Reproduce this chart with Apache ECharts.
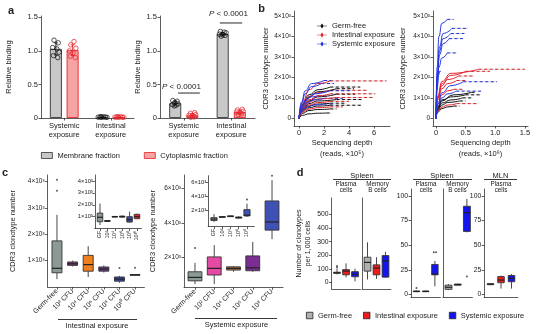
<!DOCTYPE html>
<html><head><meta charset="utf-8">
<script src="https://cdn.jsdelivr.net/npm/echarts@6/dist/echarts.min.js"></script>
<style>html,body{margin:0;padding:0;background:#fff}#c{width:537px;height:334px}</style>
</head><body><div id="c"></div>
<script>
// ---------------- DATA ----------------
// Panel a
const aCats = ['Systemic\nexposure', 'Intestinal\nexposure'];
const aLeftMem = [1.03, 0.012];
const aLeftMemSd = [0.09, 0.005];
const aLeftCyt = [1.01, 0.012];
const aLeftCytSd = [0.08, 0.005];
const aRightMem = [0.22, 1.25];
const aRightMemSd = [0.03, 0.025];
const aRightCyt = [0.04, 0.09];
const aRightCytSd = [0.025, 0.03];
const aLeftMemPts = [
  [[-0.04,1.16],[0.05,1.12],[-0.07,1.05],[0.02,1.03],[0.07,0.98],[-0.05,0.93],[0.04,0.9]],
  [[-0.09,0.012],[-0.05,0.015],[-0.01,0.01],[0.03,0.018],[0.07,0.012],[0.1,0.01],[-0.03,0.02]]
];
const aLeftCytPts = [
  [[0.03,1.14],[-0.04,1.09],[0.07,1.04],[-0.07,1.0],[0.01,0.97],[-0.05,0.92],[0.06,0.9]],
  [[-0.09,0.012],[-0.05,0.015],[-0.01,0.01],[0.03,0.018],[0.07,0.012],[0.1,0.01],[-0.03,0.02]]
];
const aRightMemPts = [
  [[-0.05,0.26],[0.04,0.25],[-0.01,0.23],[0.06,0.21],[-0.06,0.2],[0.02,0.19],[-0.02,0.18]],
  [[-0.05,1.29],[0.03,1.28],[0.07,1.27],[-0.07,1.25],[0.0,1.24],[0.05,1.23],[-0.03,1.22]]
];
const aRightCytPts = [
  [[0.05,0.08],[-0.04,0.07],[0.07,0.05],[-0.07,0.04],[0.0,0.03],[0.04,0.015],[-0.03,0.01]],
  [[0.05,0.13],[-0.05,0.12],[0.07,0.1],[-0.07,0.09],[0.0,0.08],[0.03,0.06],[-0.03,0.05]]
];
const aSigLow = [[0.38,0.372],[0.84,0.372]];
const aSigHigh = [[1.26,1.416],[1.73,1.416]];

// Panel b (x: reads, y: clonotypes); k = germ-free, r = intestinal, b = systemic
const bLeftColors = ['k','k','k','k','k','k','k','k','r','r','r','r','r','r','b','b','b','b','b','b'];
const bLeftPts = [
  [[0,0],[0.3,700],[0.8,1150],[1.5,1400],[2.5,1530]],
  [[0,0],[0.3,650],[0.8,1050],[1.5,1300],[3.0,1450]],
  [[0,0],[0.3,500],[0.8,850],[1.5,1050],[3.0,1180]],
  [[0,0],[0.3,450],[0.8,720],[1.5,850],[3.0,920]],
  [[0,0],[0.3,400],[0.8,600],[1.5,700],[2.5,740]],
  [[0,0],[0.3,350],[0.8,520],[1.5,600],[2.5,640]],
  [[0,0],[0.3,250],[0.8,380],[1.5,430],[2.5,460]],
  [[0,0],[0.3,150],[0.8,220],[1.5,250],[2.2,260]],
  [[0,0],[0.3,800],[0.8,1400],[1.5,1700],[2.5,1830]],
  [[0,0],[0.3,650],[0.8,1050],[1.5,1250],[2.5,1370]],
  [[0,0],[0.3,550],[0.8,900],[1.5,1100],[2.5,1200]],
  [[0,0],[0.3,500],[0.8,800],[1.5,950],[3.0,1020]],
  [[0,0],[0.3,400],[0.8,650],[1.5,770],[2.5,830]],
  [[0,0],[0.3,300],[0.8,450],[1.5,520],[2.5,560]],
  [[0,0],[0.2,800],[0.5,1350],[1.0,1700],[2.0,1850]],
  [[0,0],[0.2,700],[0.5,1200],[1.0,1550],[1.8,1700]],
  [[0,0],[0.2,550],[0.6,950],[1.2,1200],[2.5,1350]],
  [[0,0],[0.2,500],[0.5,850],[1.0,1050],[1.5,1100]],
  [[0,0],[0.2,450],[0.6,750],[1.2,900],[2.0,980]],
  [[0,0],[0.2,350],[0.6,550],[1.2,650],[2.0,700]]
];
const bLeftExt = [4.9,4.4,4.5,5.0,3.8,5.0,3.0,2.6,7.0,5.5,6.1,5.9,4.0,3.5,2.6,2.8,4.2,2.2,3.5,2.8];

const bRightColors = ['k','k','k','k','k','r','r','r','r','r','r','b','b','b','b','b','b','b','b'];
const bRightPts = [
  [[0,0],[0.03,550],[0.1,900],[0.3,1150],[0.6,1270]],
  [[0,0],[0.03,500],[0.1,850],[0.25,1050],[0.5,1150]],
  [[0,0],[0.03,450],[0.1,750],[0.25,900],[0.45,1000]],
  [[0,0],[0.03,400],[0.1,650],[0.2,780],[0.4,850]],
  [[0,0],[0.03,300],[0.1,480],[0.2,560],[0.3,600]],
  [[0,0],[0.03,1100],[0.1,1800],[0.25,2200],[0.72,2400]],
  [[0,0],[0.03,1000],[0.1,1700],[0.25,2100],[0.5,2300]],
  [[0,0],[0.03,1000],[0.1,1600],[0.2,1900],[0.38,2070]],
  [[0,0],[0.03,900],[0.1,1450],[0.2,1700],[0.35,1850]],
  [[0,0],[0.03,700],[0.1,1150],[0.2,1350],[0.3,1420]],
  [[0,0],[0.03,350],[0.1,550],[0.2,650],[0.35,720]],
  [[0,0],[0.02,2500],[0.05,4000],[0.1,4650],[0.19,4840]],
  [[0,0],[0.02,2000],[0.06,3500],[0.12,4150],[0.27,4400]],
  [[0,0],[0.02,1900],[0.06,3300],[0.12,3900],[0.25,4150]],
  [[0,0],[0.02,1800],[0.06,3100],[0.12,3650],[0.22,3900]],
  [[0,0],[0.02,1500],[0.05,2500],[0.1,2950],[0.19,3200]],
  [[0,0],[0.02,1400],[0.04,2100],[0.06,2300]],
  [[0,0],[0.03,700],[0.1,1250],[0.25,1600],[0.46,1790]],
  [[0,0],[0.03,600],[0.1,1000],[0.2,1200],[0.34,1330]]
];
const bRightExt = [0.66,0.75,0.6,0.5,0.4,1.5,0.91,0.63,0.5,0.45,0.71,0.3,0.54,0.48,0.46,0.35,0.08,1.03,0.76];

// Panel c
const cLeftCats = ['Germ-free','10² CFU','10⁴ CFU','10⁶ CFU','10⁸ CFU','10¹⁰ CFU'];
const cLeftBoxes = [[300,540,710,1750,2740],[780,820,880,950,1000],[380,600,850,1200,1550],[550,600,680,760,820],[160,220,300,380,420],[440,450,460,470,480]];
const cLeftOut = [[1,3650],[1,4070],[5,720],[6,730]];
const cLeftColors = ['#8c9a95','#83407f','#f07f1e','#6b3c8c','#3b48a3','#444444'];
const cLeftInsetCats = ['GF','10²','10⁴','10⁶','10⁸','10¹⁰'];
const cLeftInsetBoxes = [[300,580,950,1300,2100],[550,600,640,680,720],[950,980,1000,1020,1050],[930,970,1000,1050,1100],[500,550,750,1000,1420],[800,830,1000,1200,1250]];
const cLeftInsetColors = ['#8c9a95','#83407f','#f07f1e','#6b3c8c','#3b48a3','#e3262b'];
const cRightCats = ['Germ-free','10² CFU','10⁴ CFU','10⁶ CFU','10⁸ CFU'];
const cRightBoxes = [[410,600,800,1130,1650],[410,940,1330,2000,2690],[1130,1230,1330,1420,1450],[1130,1190,1360,2060,2880],[3040,3570,4050,5280,6500]];
const cRightOut = [[1,2530],[5,6750]];
const cRightColors = ['#8c9a95','#e54aa3','#b8733d','#7a2e91','#3f51b5'];
const cRightInsetCats = ['GF','10²','10⁴','10⁶','10⁸'];
const cRightInsetBoxes = [[400,600,800,1000,1500],[1000,1050,1100,1150,1200],[1100,1150,1200,1250,1300],[900,950,1000,1100,1200],[1100,1250,1350,2150,3000]];
const cRightInsetOut = [[5,3600]];

// Panel d (per facet: germ-free, intestinal, systemic) [min,q1,median,q3,max]
const dSpleenPlasmaA = [[60,68,72,76,100],[39,57,84,95,141],[9,43,61,80,102]];
const dSpleenPlasmaAOut = [[1,110],[1,122]];
const dSpleenMemoryA = [[23,84,148,186,295],[27,57,107,130,186],[35,40,159,198,225]];
const dSpleenPlasmaB = [[2.5,3,3.2,3.5,4],[2.5,3,3.2,3.5,4],[8.4,20,20.7,30.5,34]];
const dSpleenPlasmaBOut = [[1,6.7],[2.88,42.8],[3.12,42.8]];
const dSpleenMemoryB = [[4.5,5.3,7.4,9.5,10.5],[9,9.5,10.2,10.5,11],[63,64,83,89.5,97]];
const dSpleenMemoryBOut = [[3,18.2]];
const dMlnPlasma = [[9.5,10,10.5,11,11.5],[6,12,14.7,18.2,19.3],[6,13,16.5,19.3,20.7]];
const dColors = ['#b0b0b0','#ee1c1c','#1414ee'];

// ---------------- STYLE / BUILD ----------------
const F = '"Liberation Sans", Arial, Helvetica, sans-serif';
const INK = '#222';
const AX = '#333';
const aPos = [0.5, 1.5];
const bCol = {k:'#111111', r:'#e3202a', b:'#2233dd'};
const bName = {k:'Germ-free', r:'Intestinal exposure', b:'Systemic exposure'};
const sup3 = v => v === 0 ? '0' : (v/1000) + '×10³';

function ax(grid, min, max) {
  return {type:'value', gridIndex:grid, min, max, splitLine:{show:false},
    axisLine:{show:true, onZero:false, lineStyle:{color:AX, width:0.8}},
    axisTick:{show:false}, axisLabel:{show:false}};
}
function ticks(a, values, formatter, fs, extra) {
  a.axisTick = {show:true, length:2.5, lineStyle:{color:AX, width:0.8}, customValues:values};
  a.axisLabel = Object.assign({show:true, customValues:values, formatter, fontSize:fs, color:INK, fontFamily:F, margin:3}, extra || {});
  return a;
}
function named(a, name, gap, fs, lh) {
  a.name = name; a.nameLocation = 'middle'; a.nameGap = gap;
  a.nameTextStyle = {fontSize:fs, color:INK, fontFamily:F, lineHeight: lh || Math.round(fs*1.2)};
  return a;
}

const grids = [
  {left:41, top:16, width:93, height:102},
  {left:160, top:16, width:95, height:102},
  {left:294, top:11, width:96, height:115},
  {left:433, top:11, width:95, height:115},
  {left:47.6, top:175, width:96.8, height:112},
  {left:94.8, top:175, width:46.6, height:53.6},
  {left:184, top:175, width:99, height:112.3},
  {left:208.2, top:175.7, width:46.2, height:51},
  {left:331.6, top:198, width:28.8, height:91},
  {left:362.1, top:198, width:28.8, height:91},
  {left:411, top:189, width:29.4, height:108.5},
  {left:443, top:189, width:29.4, height:108.5},
  {left:484.2, top:189, width:33.6, height:108.5}
].map(g => Object.assign({outerBoundsMode:'none', containLabel:false}, g));

const catFmt = cats => v => cats[Math.round(v) - 1];
const aFmt = v => aCats[Math.floor(v)];

const xAxes = [
  ticks(ax(0,0,2), aPos, aFmt, 7.5, {lineHeight:9}),
  ticks(ax(1,0,2), aPos, aFmt, 7.5, {lineHeight:9}),
  named(ticks(ax(2,-0.4,7.28), [0,2,4,6], v => String(v), 7.5), 'Sequencing depth\n(reads, ×10⁵)', 10, 7.5, 10.5),
  named(ticks(ax(3,-0.05,1.552), [0,0.5,1,1.5], v => v === 0 ? '0' : v.toFixed(1), 7.5), 'Sequencing depth\n(reads, ×10⁶)', 10, 7.5, 10.5),
  ticks(ax(4,0.4,6.6), [1,2,3,4,5,6], catFmt(cLeftCats), 7, {rotate:45, margin:3}),
  ticks(ax(5,0.3,6.6), [1,2,3,4,5,6], catFmt(cLeftInsetCats), 5.5, {rotate:90, margin:2}),
  ticks(ax(6,0.43,5.57), [1,2,3,4,5], catFmt(cRightCats), 7, {rotate:45, margin:3}),
  ticks(ax(7,0.3,5.9), [1,2,3,4,5], catFmt(cRightInsetCats), 5.5, {rotate:90, margin:2}),
  ax(8,0.4,3.6), ax(9,0.4,3.6), ax(10,0.4,3.6), ax(11,0.4,3.6), ax(12,0.4,3.6)
];
const aYFmt = v => v === 0 ? '0' : v.toFixed(1);
const yAxes = [
  named(ticks(ax(0,0,1.52), [0,0.5,1,1.5], aYFmt, 7.5), 'Relative binding', 27.5, 7.5),
  named(ticks(ax(1,0,1.52), [0,0.5,1,1.5], aYFmt, 7.5), 'Relative binding', 17.5, 7.5),
  named(ticks(ax(2,-375,5250), [0,1000,2000,3000,4000,5000], sup3, 6.5), 'CDR3 clonotype number', 22.5, 7.5),
  named(ticks(ax(3,-375,5250), [0,1000,2000,3000,4000,5000], sup3, 6.5), 'CDR3 clonotype number', 25.5, 7.5),
  named(ticks(ax(4,0,4250), [1000,2000,3000,4000], sup3, 6.5), 'CDR3 clonotype number', 30, 7.5),
  ticks(ax(5,0,4500), [1000,2000,3000,4000], sup3, 5.8, {margin:2}),
  named(ticks(ax(6,220,6800), [2000,4000,6000], sup3, 6.5), 'CDR3 clonotype number', 26.5, 7.5),
  ticks(ax(7,-290,7000), [2000,4000,6000], sup3, 5.8, {margin:2}),
  named(ticks(ax(8,-47,620), [0,100,200,300,400,500], v => String(v), 6.8), 'Number of clonotypes\nper 1,000 cells', 19.6, 7, 8.5),
  ax(9,-47,620),
  ticks(ax(10,-3,107), [0,25,50,75,100], v => String(v), 6.8),
  ax(11,-3,107),
  ticks(ax(12,-3,107), [0,25,50,75,100], v => String(v), 6.8)
];

const series = [];
// ---- panel a
function barS(grid, name, vals, off, fill, stroke) {
  return {type:'bar', name, xAxisIndex:grid, yAxisIndex:grid, barWidth:12, barGap:'-100%',
    data: vals.map((v,i) => [aPos[i] + off, v]),
    itemStyle:{color:fill, borderColor:stroke, borderWidth:0.9}, silent:true, z:2};
}
function errS(grid, means, sds, off, color) {
  return {type:'custom', xAxisIndex:grid, yAxisIndex:grid, silent:true, z:3,
    data: means.map((m,i) => [aPos[i] + off, m - sds[i], m + sds[i]]),
    renderItem: (p, api) => {
      const lo = api.coord([api.value(0), api.value(1)]);
      const hi = api.coord([api.value(0), api.value(2)]);
      const st = {stroke:color, lineWidth:0.9};
      return {type:'group', children:[
        {type:'line', shape:{x1:lo[0], y1:lo[1], x2:hi[0], y2:hi[1]}, style:st},
        {type:'line', shape:{x1:lo[0]-2, y1:lo[1], x2:lo[0]+2, y2:lo[1]}, style:st},
        {type:'line', shape:{x1:hi[0]-2, y1:hi[1], x2:hi[0]+2, y2:hi[1]}, style:st}
      ]};
    }};
}
function ptsS(grid, pts, off, color) {
  const data = [];
  pts.forEach((arr, i) => arr.forEach(([dx, v]) => data.push([aPos[i] + off + dx, v])));
  return {type:'scatter', xAxisIndex:grid, yAxisIndex:grid, data, symbol:'circle', symbolSize:4.5,
    itemStyle:{color:'rgba(255,255,255,0)', borderColor:color, borderWidth:0.9}, silent:true, z:4};
}
const MEM_F = '#c8c8c8', MEM_S = '#333333', CYT_F = '#f6a3a3', CYT_S = '#e3242b';
[[0, aLeftMem, aLeftMemSd, aLeftMemPts, aLeftCyt, aLeftCytSd, aLeftCytPts],
 [1, aRightMem, aRightMemSd, aRightMemPts, aRightCyt, aRightCytSd, aRightCytPts]].forEach(([g, m, ms, mp, c, cs, cp]) => {
  series.push(barS(g, 'Membrane fraction', m, -0.18, MEM_F, MEM_S));
  series.push(barS(g, 'Cytoplasmic fraction', c, 0.18, CYT_F, CYT_S));
  series.push(errS(g, m, ms, -0.18, '#111'));
  series.push(errS(g, c, cs, 0.18, CYT_S));
  series.push(ptsS(g, mp, -0.18, '#111'));
  series.push(ptsS(g, cp, 0.18, CYT_S));
});
[aSigLow, aSigHigh].forEach(d => series.push({type:'line', xAxisIndex:1, yAxisIndex:1, data:d, showSymbol:false, silent:true,
  lineStyle:{color:'#111', width:0.9}, z:5}));

// ---- panel b
function curves(grid, colors, pts, ext) {
  colors.forEach((k, i) => {
    const p = pts[i], last = p[p.length - 1];
    const extData = [last, [ext[i], last[1]]];
    series.push({type:'line', xAxisIndex:grid, yAxisIndex:grid, name:bName[k], data:extData, showSymbol:false, silent:true,
      lineStyle:{color:'#d8d8d8', width:1}, itemStyle:{color:bCol[k]}, z:1});
    series.push({type:'line', xAxisIndex:grid, yAxisIndex:grid, name:bName[k], data:extData, showSymbol:false, silent:true,
      lineStyle:{color:bCol[k], width:1, type:[3,2.5]}, itemStyle:{color:bCol[k]}, z:2});
    series.push({type:'line', xAxisIndex:grid, yAxisIndex:grid, name:bName[k], data:p, smooth:0.5, smoothMonotone:'x',
      showSymbol:false, symbol:'circle', silent:true, lineStyle:{color:bCol[k], width:1}, itemStyle:{color:bCol[k]}, z:3});
  });
}
curves(2, bLeftColors, bLeftPts, bLeftExt);
curves(3, bRightColors, bRightPts, bRightExt);

// ---- boxes (c, d)
function boxS(grid, boxes, colors, wUnits, xs) {
  return {type:'custom', xAxisIndex:grid, yAxisIndex:grid, silent:true, z:3,
    data: boxes.map((b, i) => [xs ? xs[i] : i + 1].concat(b)),
    renderItem: (params, api) => {
      const x = api.value(0);
      const P = k => api.coord([x, api.value(k)]);
      const lo = P(1), q1 = P(2), md = P(3), q3 = P(4), hi = P(5);
      const w = api.size([wUnits, 0])[0];
      const stroke = '#333';
      const st = {stroke, lineWidth:0.9};
      return {type:'group', children:[
        {type:'line', shape:{x1:lo[0], y1:lo[1], x2:q1[0], y2:q1[1]}, style:st},
        {type:'line', shape:{x1:q3[0], y1:q3[1], x2:hi[0], y2:hi[1]}, style:st},
        {type:'rect', shape:{x:q3[0] - w/2, y:q3[1], width:w, height:Math.max(q1[1] - q3[1], 0.6)},
          style:{fill:colors[params.dataIndex], stroke, lineWidth:0.9}},
        {type:'line', shape:{x1:md[0] - w/2, y1:md[1], x2:md[0] + w/2, y2:md[1]}, style:{stroke:'#222', lineWidth:1.2}}
      ]};
    }};
}
function outS(grid, data) {
  return {type:'scatter', xAxisIndex:grid, yAxisIndex:grid, data, symbolSize:2, itemStyle:{color:'#333'}, silent:true, z:4};
}
series.push(boxS(4, cLeftBoxes, cLeftColors, 0.64), outS(4, cLeftOut));
series.push(boxS(5, cLeftInsetBoxes, cLeftInsetColors, 0.75));
series.push(boxS(6, cRightBoxes, cRightColors, 0.72), outS(6, cRightOut));
series.push(boxS(7, cRightInsetBoxes, cRightColors, 0.75), outS(7, cRightInsetOut));
series.push(boxS(8, dSpleenPlasmaA, dColors, 0.75), outS(8, dSpleenPlasmaAOut));
series.push(boxS(9, dSpleenMemoryA, dColors, 0.75));
series.push(boxS(10, dSpleenPlasmaB, dColors, 0.7), outS(10, dSpleenPlasmaBOut));
series.push(boxS(11, dSpleenMemoryB, dColors, 0.75), outS(11, dSpleenMemoryBOut));
series.push(boxS(12, dMlnPlasma, dColors, 0.62));

// ---------------- annotations ----------------
function T(x, y, text, size, extra) {
  return {type:'text', silent:true, style:Object.assign({x, y, text, fill:INK, font:`${size}px ${F}`, align:'center', verticalAlign:'middle'}, extra || {})};
}
function L(x1, y1, x2, y2) {
  return {type:'line', silent:true, shape:{x1, y1, x2, y2}, style:{stroke:'#222', lineWidth:0.9}};
}
const B = s => ({font:`bold ${s}px ${F}`});
const pRich = {rich:{i:{fontStyle:'italic', fontSize:8, fontFamily:F, fill:INK}, n:{fontSize:8, fontFamily:F, fill:INK}}};
const graphic = [
  T(11, 11, 'a', 11, B(11)), T(261.5, 9, 'b', 11, B(11)), T(5, 172.5, 'c', 11, B(11)), T(300, 172.5, 'd', 11, B(11)),
  T(181.5, 86.5, '{i|P}{n| < 0.0001}', 8, pRich), T(228.5, 14, '{i|P}{n| < 0.0001}', 8, pRich),
  L(58, 319.5, 137, 319.5), T(97, 326, 'Intestinal exposure', 7.5),
  L(195, 318.5, 277, 318.5), T(236.5, 325, 'Systemic exposure', 7.5),
  T(362, 175.5, 'Spleen', 7.5), L(333, 179.5, 391, 179.5),
  T(346, 184.5, 'Plasma', 6.3), T(346, 190, 'cells', 6.3),
  T(377.5, 184.5, 'Memory', 6.3), T(377.5, 190, 'B cells', 6.3),
  T(442, 175.5, 'Spleen', 7.5), L(413, 179.5, 472, 179.5),
  T(426, 184.5, 'Plasma', 6.3), T(426, 190, 'cells', 6.3),
  T(457.5, 184.5, 'Memory', 6.3), T(457.5, 190, 'B cells', 6.3),
  T(500.5, 175.5, 'MLN', 7.5), L(484, 179.5, 517, 179.5),
  T(501, 184.5, 'Plasma', 6.3), T(501, 190, 'cells', 6.3)
];

const legTxt = {fontSize:7.5, color:INK, fontFamily:F};
const lineIcon = 'path://M0,2.2L3.5,2.2L5,0L6.5,2.2L10,2.2L10,2.8L6.5,2.8L5,5L3.5,2.8L0,2.8Z';
const option = {
  animation:false,
  textStyle:{fontFamily:F},
  grid:grids, xAxis:xAxes, yAxis:yAxes, series, graphic,
  legend:[
    {left:36, top:146.5, itemWidth:11, itemHeight:6, itemGap:24, selectedMode:false, textStyle:legTxt,
     data:[{name:'Membrane fraction', icon:'rect', itemStyle:{color:MEM_F, borderColor:MEM_S, borderWidth:0.8}},
           {name:'Cytoplasmic fraction', icon:'rect', itemStyle:{color:CYT_F, borderColor:CYT_S, borderWidth:0.8}}]},
    {left:312, top:17, orient:'vertical', itemWidth:10, itemHeight:5, itemGap:1, selectedMode:false,
     textStyle:Object.assign({lineHeight:7}, legTxt),
     data:[{name:'Germ-free', icon:lineIcon, itemStyle:{color:bCol.k, borderWidth:0}},
           {name:'Intestinal exposure', icon:lineIcon, itemStyle:{color:bCol.r, borderWidth:0}},
           {name:'Systemic exposure', icon:lineIcon, itemStyle:{color:bCol.b, borderWidth:0}}]},
    {left:301, top:306.5, itemWidth:6.5, itemHeight:6.5, itemGap:11, selectedMode:false, textStyle:legTxt,
     data:[{name:'Germ-free', icon:'rect', itemStyle:{color:dColors[0], borderColor:'#222', borderWidth:0.8}},
           {name:'Intestinal exposure', icon:'rect', itemStyle:{color:dColors[1], borderColor:'#222', borderWidth:0.8}},
           {name:'Systemic exposure', icon:'rect', itemStyle:{color:dColors[2], borderColor:'#222', borderWidth:0.8}}]}
  ]
};
const chart = echarts.init(document.getElementById('c'), null, {renderer:'canvas'});
chart.setOption(option);
</script></body></html>
